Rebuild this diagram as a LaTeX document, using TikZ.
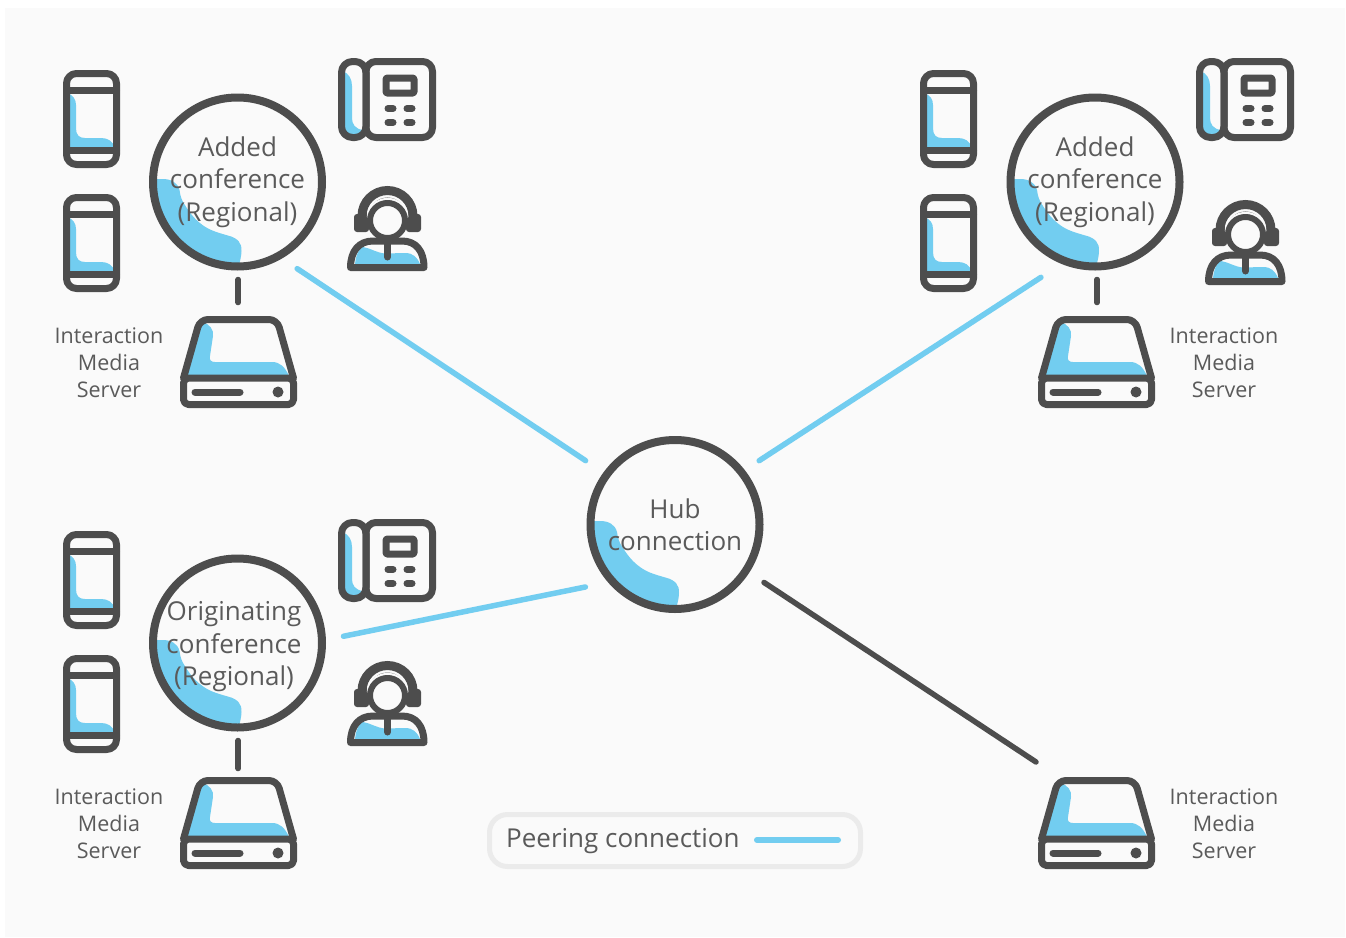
\documentclass[tikz,border=0pt]{standalone}
\usepackage{fontspec}
\setmainfont{Open Sans}
\definecolor{dk}{HTML}{4D4D4D}
\definecolor{bl}{HTML}{72CDF0}
\definecolor{bgc}{HTML}{FAFAFA}
\definecolor{txt}{HTML}{5A5A5A}
\definecolor{lg}{HTML}{EBEBEB}
\tikzset{
  x=1pt,y=-1pt,
  icon/.style={draw=dk,line width=7pt,line join=round,line cap=round},
  blob/.style={fill=bl,draw=none},
  confnode/.style={circle,draw=dk,line width=8pt,minimum size=169pt,inner sep=0pt,outer sep=3.5pt,align=center,text=txt,font=\fontsize{26}{32.5}\selectfont},
  srvbox/.style={rectangle,minimum width=117pt,minimum height=92pt,inner sep=0pt,outer sep=0pt},
  lbl/.style={align=center,text=txt,font=\fontsize{21.5}{27}\selectfont,inner sep=0pt},
  peer/.style={draw=bl,line width=5.5pt,line cap=round},
  plain/.style={draw=dk,line width=5.5pt,line cap=round},
  legendbox/.style={rectangle,rounded corners=18pt,draw=lg,line width=5pt,fill=bgc,minimum width=371pt,minimum height=52pt,inner sep=0pt},
  phoneicon/.pic={
    \fill[blob] (4,23) .. controls (10,25) and (13,29) .. (13,35) -- (13,58)
      .. controls (13,65) and (16,68) .. (22,68) -- (38,68)
      .. controls (45,68) and (49,71) .. (52,77) -- (4,77) -- cycle;
    \draw[icon,rounded corners=10pt] (3.5,3.5) rectangle (53.5,94.5);
    \draw[icon] (3.5,20) -- (53.5,20) (3.5,80) -- (53.5,80);
  },
  deskicon/.pic={
    \fill[blob] (5,13) .. controls (11,16) and (14,21) .. (14,28) -- (14,60)
      .. controls (14,66) and (17,71) .. (25,72) -- (25,78) -- (5,78) -- cycle;
    \draw[icon,rounded corners=11pt] (3.5,3.5) rectangle (28,79.5);
    \draw[icon,rounded corners=10pt] (28,3.5) rectangle (94.5,79.5);
    \draw[icon,rounded corners=1pt] (48,20) rectangle (76,35);
    \draw[icon] (50,50.5) -- (55,50.5) (69,50.5) -- (74,50.5)
                (50,64.5) -- (55,64.5) (69,64.5) -- (74,64.5);
  },
  agenticon/.pic={
    \fill[blob] (8,78) .. controls (9,69) and (12,62) .. (16,61)
      .. controls (23,62) and (30,67) .. (38,67.5) -- (58,67)
      .. controls (66,67) and (70,71) .. (73,78) -- cycle;
    \fill[dk,rounded corners=3pt] (7,28) rectangle (22,46) (59,28) rectangle (74,46);
    \draw[dk,line width=9pt,line cap=butt] (15,30) arc[start angle=180,end angle=0,radius=25.5pt];
    \draw[dk,line width=3pt,line cap=butt] (23.5,30) arc[start angle=180,end angle=0,radius=17pt];
    \draw[bgc,line width=2.5pt,line cap=round] (21,31) arc[start angle=175,end angle=5,radius=19.7pt];
    \draw[icon,fill=bgc,line width=6pt] (40.5,34.5) circle (17.5pt);
    \draw[icon] (3.5,81.5) .. controls (3.5,65) and (12,55) .. (26,55) -- (55,55)
      .. controls (69,55) and (77,65) .. (77,81.5) -- cycle;
    \draw[icon] (40.5,56) -- (40.5,71);
  },
  servericon/.pic={
    \fill[blob] (22,6) .. controls (30,8) and (34,14) .. (33,20) -- (30,40)
      .. controls (29,44) and (31,46) .. (35,46) -- (92,46)
      .. controls (100,46) and (105,51) .. (109,60) -- (6,60) -- (20,6) -- cycle;
    \draw[icon,rounded corners=8pt] (3.5,62) -- (20,3.5) -- (97,3.5) -- (113.5,62);
    \draw[icon,rounded corners=5pt] (3.5,62) rectangle (113.5,88.5);
    \draw[icon] (15,76) -- (60,76);
    \fill[dk] (98,76) circle (5.5pt);
  },
  blobicon/.pic={
    \begin{scope}
      \clip (0,0) circle (85pt);
      \fill[blob] (-90,-3) -- (-75,-3) .. controls (-67,-3) and (-60,0) .. (-58,8)
        .. controls (-57,15) and (-56,18) .. (-52,24)
        .. controls (-47,32) and (-42,38) .. (-35,43)
        .. controls (-27,49) and (-18,51) .. (-8,54)
        .. controls (0,56) and (5,62) .. (4,69)
        .. controls (4,75) and (2,80) .. (0,90) -- (-90,90) -- cycle;
    \end{scope}
  },
}
\begin{document}
\begin{tikzpicture}
\useasboundingbox (0,0) rectangle (1346,937);
\fill[white] (0,0) rectangle (1346,937);
\fill[bgc] (5,8) rectangle (1345,937);

\pic at (237.5,182) {blobicon};
\pic at (1095,182) {blobicon};
\pic at (237.5,643) {blobicon};
\pic at (675,524) {blobicon};

\node[confnode] (a) at (237.5,182) {Added\\conference\\(Regional)};
\node[confnode] (b) at (1095,182) {Added\\conference\\(Regional)};
\node[confnode,draw=none] (ctext) at (234,647) {Originating\\conference\\(Regional)};
\node[confnode] (c) at (237.5,643) {};
\node[confnode] (hub) at (675,524.5) {Hub\\connection};

\node[srvbox] (s1) at (238.2,362) {};
\node[srvbox] (s2) at (1097,362) {};
\node[srvbox] (s3) at (238.2,823) {};
\node[srvbox] (s4) at (1096.5,823) {};
\coordinate (s4end) at (1036,762);

\pic at (180,316) {servericon};
\pic at (1038,316) {servericon};
\pic at (180,777) {servericon};
\pic at (1038,777) {servericon};

\pic at (63,70) {phoneicon};
\pic at (63,194) {phoneicon};
\pic at (920,70) {phoneicon};
\pic at (920,194) {phoneicon};
\pic at (63,531) {phoneicon};
\pic at (63,655) {phoneicon};

\pic at (338,58) {deskicon};
\pic at (1196,58) {deskicon};
\pic at (338,519) {deskicon};

\pic at (347,186) {agenticon};
\pic at (1205,200) {agenticon};
\pic at (347,661) {agenticon};

\node[lbl] (l1) at (109,362.5) {Interaction\\Media\\Server};
\node[lbl] (l2) at (1224,362.5) {Interaction\\Media\\Server};
\node[lbl] (l3) at (109,823.5) {Interaction\\Media\\Server};
\node[lbl] (l4) at (1224,823.5) {Interaction\\Media\\Server};

\path[peer,shorten <=18.8pt,shorten >=21.9pt] (a.-60.5) -- (hub.144.7);
\path[peer,shorten <=25.2pt,shorten >=17.7pt] (b.-112.7) -- (hub.38.1);
\path[peer,shorten <=18.4pt,shorten >=23.7pt] (c.2.1) -- (hub.-139.4);
\path[plain,shorten <=18.2pt] (hub.-33) -- (s4end);

\path[plain,shorten <=9.5pt,shorten >=13.5pt] (a.south -| s1.north) -- (s1.north);
\path[plain,shorten <=9.5pt,shorten >=13.5pt] (b.south -| s2.north) -- (s2.north);
\path[plain,shorten <=9.5pt,shorten >=8.5pt] (c.south -| s3.north) -- (s3.north);

\node[legendbox] (leg) at (675,840.5) {};
\node[text=txt,font=\fontsize{26}{30}\selectfont,inner sep=0pt,anchor=base west] (legt) at (506,847) {Peering connection};
\coordinate (k1) at (757,840);
\coordinate (k2) at (838,840);
\path[draw=bl,line width=6pt,line cap=round] (k1) -- (k2);
\end{tikzpicture}
\end{document}
